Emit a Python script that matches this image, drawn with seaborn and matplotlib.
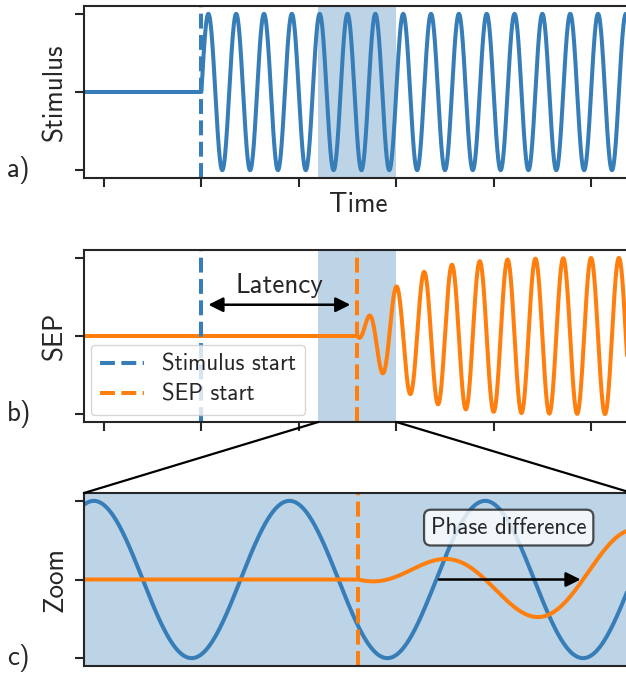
import numpy as np
import pandas as pd
import matplotlib
matplotlib.use('Agg')
import matplotlib.pyplot as plt
from matplotlib.patches import ConnectionPatch
import seaborn as sns

# values
stim_start = 1.0          # stimulus onset
sep_start = 2.6           # SEP onset (latency = 1.6)
stim_freq = 3.5           # cycles per time unit
sep_phase = np.pi / 2     # SEP leads the stimulus by a quarter cycle
sep_tau = 0.4             # build-up time constant of the SEP amplitude
zoom_window = [2.2, 3.0]
time_range = [-0.205, 5.42]
x_ticks = [0, 1, 2, 3, 4, 5]
y_ticks = [-1, 0, 1]
panel_labels = ['a)', 'b)', 'c)']
y_labels = ['Stimulus', 'SEP', 'Zoom']
legend_labels = ['Stimulus start', 'SEP start']

sns.set_theme(style='ticks')
plt.rcParams['font.family'] = ['cmss10', 'DejaVu Sans']
plt.rcParams['axes.unicode_minus'] = False
plt.rcParams['axes.linewidth'] = 1.5
for ax_name in ['xtick', 'ytick']:
    plt.rcParams[f'{ax_name}.major.size'] = 6.5
    plt.rcParams[f'{ax_name}.major.width'] = 1.5

blue, orange = '#377eb8', '#ff7f0e'

# signals
t = np.linspace(time_range[0], time_range[1], 8000)
stim = np.where(t >= stim_start, np.sin(2 * np.pi * stim_freq * (t - stim_start)), 0.0)
env = np.where(t >= sep_start, 1 - np.exp(-(t - sep_start) / sep_tau), 0.0)
sep = env * np.sin(2 * np.pi * stim_freq * (t - stim_start) + sep_phase)
df = pd.DataFrame({'time': t, 'stimulus': stim, 'sep': sep})

W, H = 626, 673
fig = plt.figure(figsize=(W / 100, H / 100), dpi=100)

def add_axes(top, bottom, left=84, right=632):
    return fig.add_axes([left / W, 1 - bottom / H, (right - left) / W, (bottom - top) / H])

ax_a = add_axes(6, 178)
ax_b = add_axes(250, 422)
ax_c = add_axes(493, 666)

lw = 2.9
big = 19.5
small = 16.5

# a) stimulus
sns.lineplot(data=df, x='time', y='stimulus', ax=ax_a, color=blue, lw=lw, estimator=None)
ax_a.axvspan(*zoom_window, color=blue, alpha=0.33, lw=0)
ax_a.axvline(stim_start, color=blue, ls='--', lw=lw)
ax_a.set_xlabel('Time', fontsize=big, labelpad=0)

# b) SEP
sns.lineplot(data=df, x='time', y='sep', ax=ax_b, color=orange, lw=lw, estimator=None)
ax_b.axvspan(*zoom_window, color=blue, alpha=0.33, lw=0)
ax_b.axvline(stim_start, color=blue, ls='--', lw=lw, label=legend_labels[0])
ax_b.axvline(sep_start, color=orange, ls='--', lw=lw, label=legend_labels[1])
ax_b.set_xlabel('')
ax_b.annotate('', xy=(stim_start, 0.4), xytext=(sep_start, 0.4),
              arrowprops=dict(arrowstyle='<|-|>', color='black', lw=1.8,
                              mutation_scale=22, shrinkA=5, shrinkB=5))
ax_b.text((stim_start + sep_start) / 2, 0.65, 'Latency', ha='center', va='center', fontsize=big)
ax_b.legend(loc='lower left', fontsize=small, handlelength=1.9, borderaxespad=0.3,
            labelspacing=0.35)

# c) zoom
sns.lineplot(data=df, x='time', y='stimulus', ax=ax_c, color=blue, lw=lw, estimator=None)
sns.lineplot(data=df, x='time', y='sep', ax=ax_c, color=orange, lw=lw, estimator=None)
ax_c.axvspan(*zoom_window, color=blue, alpha=0.33, lw=0, zorder=0)
ax_c.axvline(sep_start, color=orange, ls='--', lw=lw)
ax_c.annotate('', xy=(2.929, 0), xytext=(2.714, 0),
              arrowprops=dict(arrowstyle='-|>', color='black', lw=1.8, mutation_scale=22))
ax_c.text(2.82, 0.66, 'Phase difference', ha='center', va='center', fontsize=small,
          bbox=dict(boxstyle='round,pad=0.3', fc='white', alpha=0.8, ec='#222222', lw=1.6))
ax_c.set_xlabel('')

for ax, lab, yl, bot_px in zip([ax_a, ax_b, ax_c], panel_labels, y_labels, [178, 422, 666]):
    ax.set_ylim(-1.1, 1.1)
    ax.set_yticks(y_ticks)
    ax.set_yticklabels([])
    ax.set_ylabel(yl, fontsize=big, labelpad=2)
    fig.text(7 / W, 1 - (bot_px - 1) / H, lab, fontsize=big, va='baseline')

for ax in [ax_a, ax_b]:
    ax.set_xlim(*time_range)
    ax.set_xticks(x_ticks)
    ax.set_xticklabels([])

ax_c.set_xlim(*zoom_window)
ax_c.set_xticks([])

# connector lines between the shaded window and the zoom panel
for x_src, x_dst in zip(zoom_window, [0, 1]):
    con = ConnectionPatch(xyA=(x_src, -1.1), coordsA=ax_b.transData,
                          xyB=(x_dst, 1), coordsB=ax_c.transAxes,
                          color='black', lw=1.6)
    fig.add_artist(con)

fig.savefig('out.png', dpi=100)
